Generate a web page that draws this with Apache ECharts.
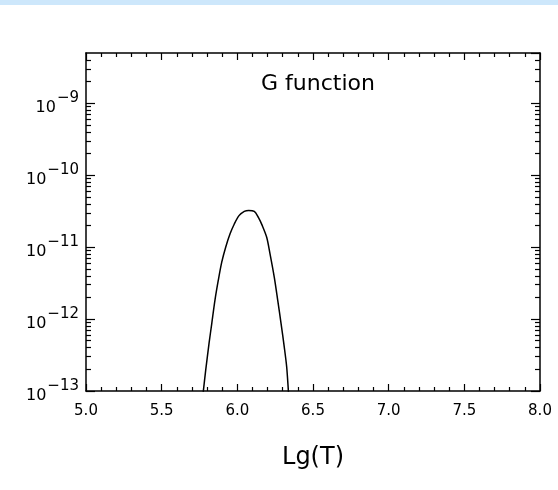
<!DOCTYPE html>
<html>
<head>
<meta charset="utf-8">
<script src="https://cdn.jsdelivr.net/npm/echarts@6/dist/echarts.min.js"></script>
<style>
  html, body { margin: 0; padding: 0; background: #fff; }
  #chart { width: 558px; height: 490px; }
</style>
</head>
<body>
<div id="chart"></div>
<script>
// temperature (log10 T) and G(T)
const lgT = [5.76, 5.775, 5.791, 5.813, 5.831, 5.852, 5.874, 5.897, 5.923, 5.952, 5.980,
  6.011, 6.046, 6.075, 6.112, 6.139, 6.165, 6.194, 6.216, 6.244, 6.267, 6.289,
  6.310, 6.326, 6.337, 6.347];
const gValues = [5.1e-14, 9.8e-14, 1.95e-13, 4.58e-13, 8.67e-13, 1.82e-12, 3.44e-12, 6.18e-12, 9.98e-12, 1.53e-11, 2.10e-11,
  2.74e-11, 3.14e-11, 3.24e-11, 3.14e-11, 2.59e-11, 1.99e-11, 1.37e-11, 8.07e-12, 3.83e-12, 1.82e-12, 8.67e-13,
  4.11e-13, 2.17e-13, 1.03e-13, 5.2e-14];

// axes
const xMin = 5.0;
const xMax = 8.0;
const xStep = 0.5;
const yDecades = [-13, -12, -11, -10, -9];
const yTop = 5e-9;
const minorMult = [2, 3, 4, 5, 6, 7, 8, 9];

const font = "DejaVu Sans";
const yMax = Math.log10(yTop);

// minor ticks on the log axis, at 2..9 x 10^n
const yMinor = [];
yDecades.forEach(function (d) {
  minorMult.forEach(function (m) {
    const v = d + Math.log10(m);
    if (v < yMax) yMinor.push(v);
  });
});

const seriesData = lgT.map(function (t, i) {
  return [t, Math.log10(gValues[i])];
});

const chart = echarts.init(document.getElementById("chart"));

const lineStyle = { color: "#000", width: 1.5 };

const xCommon = {
  type: "value",
  min: xMin,
  max: xMax,
  interval: xStep,
  splitLine: { show: false },
  axisLine: { show: true, lineStyle: lineStyle },
  axisTick: { show: true, inside: true, length: 7, lineStyle: { color: "#000", width: 1.2 } },
  minorTick: { show: true, splitNumber: 5, length: 4, lineStyle: { color: "#000", width: 1.2 } },
};

const yMajor = {
  type: "value",
  min: -13,
  max: yMax,
  interval: 1,
  splitLine: { show: false },
  axisLine: { show: true, lineStyle: lineStyle },
  axisTick: { show: true, inside: true, length: 9, lineStyle: { color: "#000", width: 1.2 } },
};

const yMinorAxis = {
  type: "value",
  min: -13,
  max: yMax,
  splitLine: { show: false },
  axisLine: { show: false },
  axisLabel: { show: false },
  axisTick: {
    show: true,
    inside: true,
    length: 5,
    customValues: yMinor,
    lineStyle: { color: "#000", width: 1.2 },
  },
};

chart.setOption({
  animation: false,
  backgroundColor: "#fff",
  graphic: [
    {
      type: "rect",
      left: 0,
      top: 0,
      shape: { width: 558, height: 5 },
      style: { fill: "#cde7fb" },
    },
  ],
  title: {
    text: "G function",
    left: 313,
    top: 68,
    textAlign: "center",
    textStyle: { fontFamily: font, fontSize: 22, fontWeight: "normal", color: "#000" },
  },
  grid: { left: 86, right: 18, top: 53, bottom: 99 },
  xAxis: [
    Object.assign({}, xCommon, {
      position: "bottom",
      name: "Lg(T)",
      nameLocation: "middle",
      nameGap: 55,
      nameTextStyle: { fontFamily: font, fontSize: 24, color: "#000" },
      axisLabel: {
        margin: 13,
        fontFamily: font,
        fontSize: 15,
        color: "#000",
        formatter: function (v) { return v.toFixed(1); },
      },
    }),
    Object.assign({}, xCommon, { position: "top", axisLabel: { show: false } }),
  ],
  yAxis: [
    Object.assign({}, yMajor, {
      position: "left",
      axisLabel: {
        margin: 7,
        showMaxLabel: false,
        formatter: function (v) {
          return "{b|10}{e|\u2212" + Math.abs(Math.round(v)) + "}";
        },
        rich: {
          b: { fontFamily: font, fontSize: 16, color: "#000", verticalAlign: "bottom" },
          e: { fontFamily: font, fontSize: 15, color: "#000", padding: [0, 0, 10, 1], verticalAlign: "bottom" },
        },
      },
    }),
    Object.assign({}, yMinorAxis, { position: "left" }),
    Object.assign({}, yMajor, { position: "right", axisLabel: { show: false } }),
    Object.assign({}, yMinorAxis, { position: "right" }),
  ],
  series: [
    {
      type: "line",
      xAxisIndex: 0,
      yAxisIndex: 0,
      data: seriesData,
      showSymbol: false,
      smooth: 0.3,
      clip: true,
      lineStyle: { color: "#000", width: 1.5 },
    },
  ],
});
</script>
</body>
</html>
